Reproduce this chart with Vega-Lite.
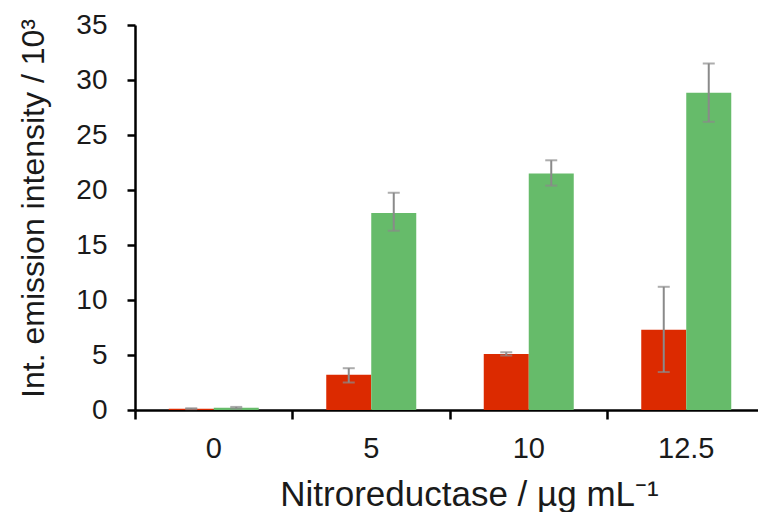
{
  "$schema": "https://vega.github.io/schema/vega-lite/v6.json",
  "autosize": {"type": "none"},
  "padding": {"left": 135, "top": 25, "right": 0, "bottom": 102},
  "width": 623,
  "height": 385,
  "background": "white",
  "config": {
    "view": {"stroke": null},
    "font": "Liberation Sans",
    "axis": {"labelFont": "Liberation Sans", "titleFont": "Liberation Sans", "labelColor": "#1a1a1a", "titleColor": "#1a1a1a", "titleFontWeight": "normal", "grid": false}
  },
  "data": {
    "values": [
      {"conc": "0", "series": "A", "value": 0.12, "lo": 0.08, "hi": 0.16},
      {"conc": "0", "series": "B", "value": 0.2, "lo": 0.12, "hi": 0.28},
      {"conc": "5", "series": "A", "value": 3.2, "lo": 2.5, "hi": 3.8},
      {"conc": "5", "series": "B", "value": 17.9, "lo": 16.3, "hi": 19.75},
      {"conc": "10", "series": "A", "value": 5.1, "lo": 4.95, "hi": 5.25},
      {"conc": "10", "series": "B", "value": 21.5, "lo": 20.4, "hi": 22.7},
      {"conc": "12.5", "series": "A", "value": 7.3, "lo": 3.45, "hi": 11.2},
      {"conc": "12.5", "series": "B", "value": 28.85, "lo": 26.2, "hi": 31.5}
    ]
  },
  "encoding": {
    "x": {
      "field": "conc", "type": "nominal", "sort": ["0", "5", "10", "12.5"],
      "scale": {"paddingInner": 0, "paddingOuter": 0, "range": [0, 630]},
      "axis": {
        "title": "Nitroreductase / µg mL⁻¹",
        "labelAngle": 0, "bandPosition": 0,
        "domainColor": "black", "domainWidth": 2.5, "tickColor": "black", "tickWidth": 2.5, "tickSize": 9,
        "labelFontSize": 29, "labelPadding": 15,
        "titleFontSize": 35, "titleX": 334, "titleY": 95, "titleBaseline": "alphabetic", "titleAlign": "center"
      }
    },
    "xOffset": {"field": "series", "type": "nominal", "scale": {"paddingInner": 0, "paddingOuter": 0.75}},
    "y": {
      "field": "value", "type": "quantitative",
      "scale": {"domain": [0, 35], "nice": false},
      "axis": {
        "title": "Int. emission intensity / 10³",
        "values": [0, 5, 10, 15, 20, 25, 30, 35],
        "domainColor": "black", "domainWidth": 2.5, "tickColor": "black", "tickWidth": 2.5, "tickSize": 8,
        "labelFontSize": 28, "labelPadding": 20,
        "titleFontSize": 32, "titleX": -102, "titleY": 183, "titleBaseline": "middle", "titleAlign": "center", "titleAngle": -90
      }
    }
  },
  "layer": [
    {
      "mark": {"type": "bar"},
      "encoding": {
        "color": {"field": "series", "type": "nominal", "scale": {"domain": ["A", "B"], "range": ["#DC2A00", "#66BB6A"]}, "legend": null}
      }
    },
    {
      "mark": {"type": "rule", "color": "#8a8a8a", "strokeWidth": 2},
      "encoding": {"y": {"field": "lo", "type": "quantitative"}, "y2": {"field": "hi"}}
    },
    {
      "mark": {"type": "tick", "color": "#8a8a8a", "orient": "horizontal", "size": 12, "thickness": 2},
      "encoding": {"y": {"field": "lo", "type": "quantitative"}}
    },
    {
      "mark": {"type": "tick", "color": "#8a8a8a", "orient": "horizontal", "size": 12, "thickness": 2},
      "encoding": {"y": {"field": "hi", "type": "quantitative"}}
    }
  ]
}
